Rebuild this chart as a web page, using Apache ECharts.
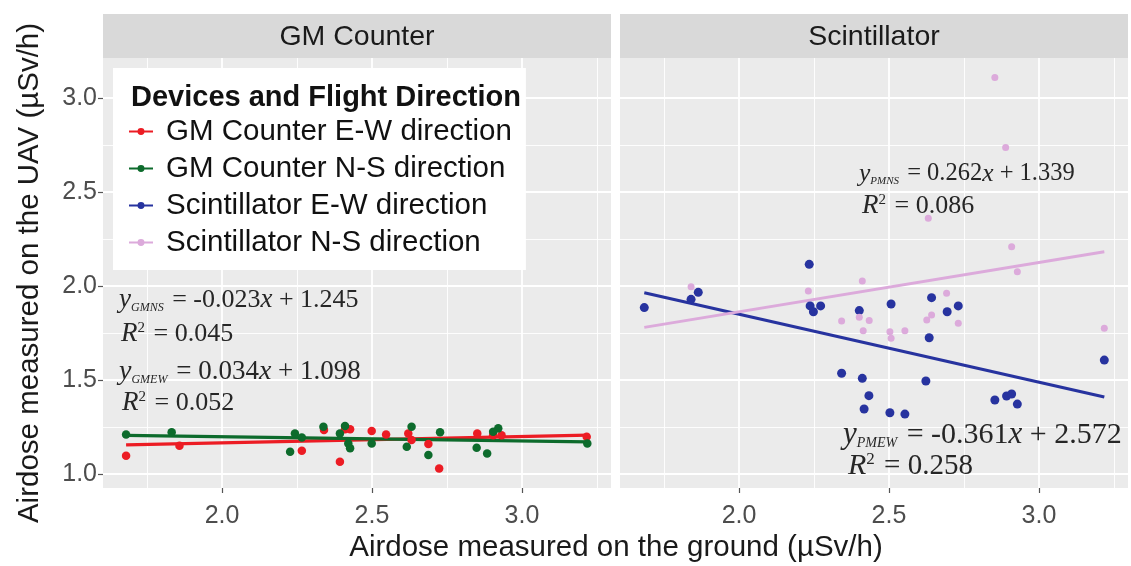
<!DOCTYPE html>
<html><head><meta charset="utf-8">
<script src="https://cdn.jsdelivr.net/npm/echarts@6/dist/echarts.min.js"></script>
<style>html,body{margin:0;padding:0;background:#fff}#c{width:1131px;height:566px}</style>
</head><body><div id="c"></div>
<script>
// ---------- data ----------
const panelTitles = ['GM Counter', 'Scintillator'];
const seriesNames = ['GM Counter E-W direction', 'GM Counter N-S direction', 'Scintillator E-W direction', 'Scintillator N-S direction'];
const xTicks = [2.0, 2.5, 3.0];
const xMinorTicks = [1.75, 2.25, 2.75, 3.25];
const yTicks = [1.0, 1.5, 2.0, 2.5, 3.0];
const yMinorTicks = [1.25, 1.75, 2.25, 2.75];
const xRange = [1.603, 3.297];
const yRange = [0.926, 3.212];

const gmEW = [[1.68,1.097],[1.858,1.151],[2.266,1.124],[2.34,1.234],[2.393,1.066],[2.41,1.238],[2.427,1.238],[2.499,1.229],[2.547,1.211],[2.621,1.216],[2.632,1.181],[2.688,1.160],[2.724,1.030],[2.851,1.216],[2.904,1.207],[2.932,1.207],[3.216,1.198]];
const gmNS = [[1.68,1.211],[1.832,1.222],[2.227,1.119],[2.243,1.216],[2.266,1.195],[2.338,1.252],[2.41,1.255],[2.393,1.216],[2.421,1.163],[2.427,1.137],[2.499,1.163],[2.632,1.252],[2.616,1.145],[2.688,1.101],[2.727,1.222],[2.849,1.140],[2.884,1.110],[2.921,1.243],[2.904,1.225],[3.218,1.163]];
const scEW = [[1.684,1.885],[1.84,1.929],[1.864,1.966],[2.234,2.115],[2.237,1.894],[2.248,1.863],[2.272,1.894],[2.342,1.536],[2.401,1.869],[2.411,1.509],[2.433,1.417],[2.417,1.346],[2.507,1.904],[2.503,1.326],[2.553,1.319],[2.623,1.495],[2.634,1.725],[2.642,1.938],[2.694,1.863],[2.731,1.894],[2.853,1.394],[2.892,1.415],[2.909,1.426],[2.928,1.372],[3.218,1.606]];
const scNS = [[1.84,1.996],[2.231,1.973],[2.411,2.027],[2.342,1.814],[2.401,1.834],[2.434,1.816],[2.414,1.762],[2.503,1.757],[2.507,1.722],[2.553,1.762],[2.626,1.819],[2.642,1.846],[2.692,1.961],[2.731,1.802],[2.631,2.360],[2.853,3.108],[2.889,2.736],[2.909,2.209],[2.928,2.076],[3.218,1.775]];

// fitted regression line end points
const gmEWFit = [[1.68,1.155],[3.22,1.207]];
const gmNSFit = [[1.68,1.206],[3.22,1.171]];
const scEWFit = [[1.684,1.964],[3.218,1.410]];
const scNSFit = [[1.684,1.780],[3.218,2.182]];

const equations = [
  {sub:'GMNS', text:' = -0.023', rest:' + 1.245', r2:'0.045'},
  {sub:'GMEW', text:' = 0.034', rest:' + 1.098', r2:'0.052'},
  {sub:'PMNS', text:' = 0.262', rest:' + 1.339', r2:'0.086'},
  {sub:'PMEW', text:' = -0.361', rest:' + 2.572', r2:'0.258'}
];

// ---------- styling ----------
const colors = ['#ec1c24', '#0d6b2c', '#27339f', '#dcaadb'];
const grids = [
  {left: 103, top: 58, width: 508, height: 430},
  {left: 620, top: 58, width: 508, height: 430}
];
const sansFont = '"Liberation Sans", Arial, Helvetica, sans-serif';
const serifFont = '"Liberation Serif", "DejaVu Serif", serif';

function xAxisFor(i) {
  return {
    type: 'value', gridIndex: i, min: xRange[0], max: xRange[1],
    axisLine: {show: false},
    axisTick: {show: true, customValues: xTicks, length: 5, lineStyle: {color: '#555', width: 1.2}},
    axisLabel: {customValues: xTicks, formatter: v => v.toFixed(1), fontSize: 25, color: '#4d4d4d', fontFamily: sansFont, margin: 16},
    splitLine: {show: false}
  };
}
function yAxisFor(i) {
  return {
    type: 'value', gridIndex: i, min: yRange[0], max: yRange[1],
    name: i === 0 ? 'Airdose measured on the UAV (µSv/h)' : '',
    nameLocation: 'middle', nameGap: 58,
    nameTextStyle: {fontSize: 29.5, color: '#1a1a1a', fontFamily: sansFont},
    axisLine: {show: false},
    axisTick: {show: i === 0, customValues: yTicks, length: 5, lineStyle: {color: '#555', width: 1.2}},
    axisLabel: {show: i === 0, customValues: yTicks, formatter: v => v.toFixed(1), fontSize: 25, color: '#4d4d4d', fontFamily: sansFont, margin: 6},
    splitLine: {show: false}
  };
}
function gridLines(i) {
  const d = [];
  xTicks.forEach(v => d.push({xAxis: v, lineStyle: {color: '#fff', width: 1.8, type: 'solid'}}));
  xMinorTicks.forEach(v => d.push({xAxis: v, lineStyle: {color: '#fff', width: 0.9, type: 'solid'}}));
  yTicks.forEach(v => d.push({yAxis: v, lineStyle: {color: '#fff', width: 1.8, type: 'solid'}}));
  yMinorTicks.forEach(v => d.push({yAxis: v, lineStyle: {color: '#fff', width: 0.9, type: 'solid'}}));
  return {
    type: 'scatter', xAxisIndex: i, yAxisIndex: i, data: [], silent: true, z: 1,
    markLine: {silent: true, z: 1, symbol: ['none','none'], label: {show: false}, emphasis: {disabled: true}, animation: false, data: d}
  };
}
function fitLine(name, data, color, i, w) {
  return {name, type: 'line', xAxisIndex: i, yAxisIndex: i, data, showSymbol: false, symbol: 'none', z: 3,
    lineStyle: {color, width: w}, itemStyle: {color}, silent: true};
}
function points(name, data, color, i, size) {
  return {name, type: 'scatter', xAxisIndex: i, yAxisIndex: i, data, symbolSize: size, z: 4,
    itemStyle: {color, opacity: 1}, silent: true};
}

const legendIcon = 'path://M0,4.6 H8.5 V6.6 H0 Z M13.5,4.6 H22 V6.6 H13.5 Z M14.2,5.6 A3.2,3.2 0 1,1 7.8,5.6 A3.2,3.2 0 1,1 14.2,5.6 Z';

function makeRich(sz) {
  return {
    i: {fontFamily: serifFont, fontStyle: 'italic', fontSize: sz + 1, fill: '#262626'},
    n: {fontFamily: serifFont, fontSize: sz, fill: '#262626'},
    s: {fontFamily: serifFont, fontStyle: 'italic', fontSize: Math.round(sz * 0.46), fill: '#262626', verticalAlign: 'bottom', padding: [Math.round(sz * 0.4), 2, 0, 0]},
    p: {fontFamily: serifFont, fontSize: Math.round(sz * 0.58), fill: '#262626', verticalAlign: 'top', padding: [0, 2, Math.round(sz * 0.4), 0]}
  };
}
function eqText(e) { return '{i|y}{s|' + e.sub + '}{n|' + e.text + '}{i|x}{n|' + e.rest + '}'; }
function r2Text(e) { return '{i|R}{p|2}{n| = ' + e.r2 + '}'; }
const eqPos = [[119, 300], [121, 334], [119, 372], [122, 403], [859, 174], [862, 206], [843, 435], [848, 466]];
const eqSize = [26, 27, 24.5, 30];
const r2Size = [26, 26, 26, 29];

const graphic = [];
panelTitles.forEach((t, i) => {
  graphic.push({type: 'rect', left: grids[i].left, top: 14, shape: {width: grids[i].width, height: 44}, style: {fill: '#d9d9d9'}, z: 1});
  graphic.push({type: 'text', x: grids[i].left + grids[i].width / 2, y: 37, style: {text: t, fill: '#1a1a1a', font: '28.5px ' + sansFont, textAlign: 'center', textVerticalAlign: 'middle'}, z: 2});
});
equations.forEach((e, j) => {
  const p1 = eqPos[j * 2], p2 = eqPos[j * 2 + 1];
  graphic.push({type: 'text', x: p1[0], y: p1[1], z: 50, style: {text: eqText(e), rich: makeRich(eqSize[j]), textVerticalAlign: 'middle', fill: '#262626'}});
  graphic.push({type: 'text', x: p2[0], y: p2[1], z: 50, style: {text: r2Text(e), rich: makeRich(r2Size[j]), textVerticalAlign: 'middle', fill: '#262626'}});
});
graphic.push({type: 'text', x: 616, y: 548, z: 50, style: {text: 'Airdose measured on the ground (µSv/h)', fill: '#1a1a1a', font: '29.5px ' + sansFont, textAlign: 'center', textVerticalAlign: 'middle'}});

const option = {
  animation: false,
  backgroundColor: '#fff',
  grid: grids.map(g => Object.assign({show: true, backgroundColor: '#ebebeb', borderWidth: 0}, g)),
  xAxis: [xAxisFor(0), xAxisFor(1)],
  yAxis: [yAxisFor(0), yAxisFor(1)],
  title: {text: 'Devices and Flight Direction', left: 126, top: 78, z: 20,
    textStyle: {fontSize: 29, fontWeight: 'bold', color: '#111', fontFamily: sansFont}},
  legend: {
    orient: 'vertical', left: 113, top: 68, z: 10,
    padding: [48, 14, 12, 16], backgroundColor: '#fff',
    itemWidth: 24, itemHeight: 11, itemGap: 6, itemTextGap: 13,
    textStyle: {fontSize: 29.5, color: '#111', fontFamily: sansFont, lineHeight: 31, padding: [0, 0, 0, 8]},
    selectedMode: false,
    data: seriesNames.map(n => ({name: n, icon: legendIcon}))
  },
  graphic,
  series: [
    gridLines(0), gridLines(1),
    fitLine(seriesNames[0], gmEWFit, colors[0], 0, 3.2),
    fitLine(seriesNames[1], gmNSFit, colors[1], 0, 3.2),
    fitLine(seriesNames[2], scEWFit, colors[2], 1, 3.2),
    fitLine(seriesNames[3], scNSFit, colors[3], 1, 2.8),
    points(seriesNames[0], gmEW, colors[0], 0, 8.5),
    points(seriesNames[1], gmNS, colors[1], 0, 8.5),
    points(seriesNames[2], scEW, colors[2], 1, 9),
    points(seriesNames[3], scNS, colors[3], 1, 7)
  ]
};
const chart = echarts.init(document.getElementById('c'), null, {renderer: 'canvas'});
chart.setOption(option);
</script>
</body></html>
